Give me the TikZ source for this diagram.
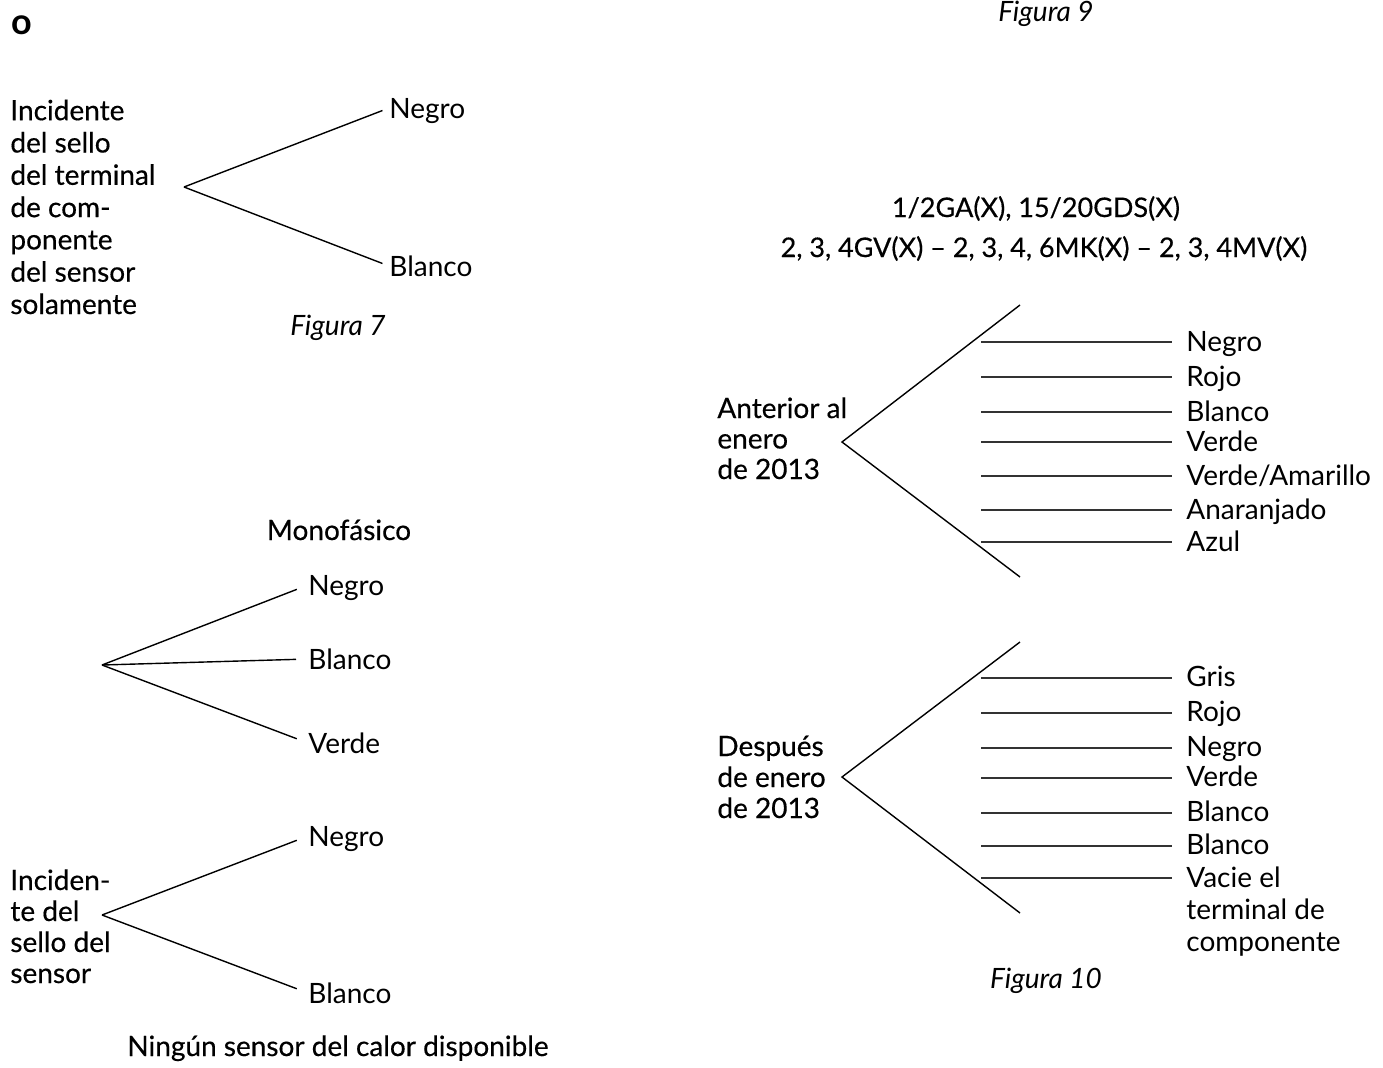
\documentclass[tikz,border=0pt]{standalone}
\usepackage{fontspec}
\setmainfont{Lato}
\newfontfamily\medio[FakeBold=0.4]{Lato}
\usetikzlibrary{positioning}

\tikzset{
  rama/.style={line width=0.7pt},
  raya/.style={line width=0.9pt, black!80},
  etiq/.style={font=\fontsize{14}{16}\selectfont, anchor=west, inner sep=0pt, text height=10pt, text depth=0pt},
  tit/.style={font=\medio\fontsize{#1}{16}\selectfont, inner sep=0pt, text height=10pt, text depth=0pt},
  tit/.default=14,
  pie/.style={font=\itshape\fontsize{14}{16}\selectfont, inner sep=0pt, text height=10pt, text depth=0pt},
  % base = linea de base de la ultima linea
  bloque/.style={font=\medio\fontsize{14}{#1}\selectfont, align=left, anchor=base west, inner sep=0pt},
  bloqueluz/.style={font=\fontsize{14}{#1}\selectfont, align=left, anchor=base west, inner sep=0pt}
}

\begin{document}
\begin{tikzpicture}[x=0.5pt, y=-0.5pt]
\useasboundingbox (0,0) rectangle (1383,1067);

% encabezado
\node[font=\bfseries\fontsize{18}{20}\selectfont, inner sep=0pt, text height=9pt, text depth=0pt] (letra) at (22,25) {o};
\node[pie] (fig9) at (1046,11) {Figura 9};

% Figura 7
\node[bloque=16.15pt] (sello7) at (10,314) {Incidente\\del sello\\del terminal\\de com-\\ponente\\del sensor\\solamente};
\coordinate (v7) at (184,187);
\node[etiq] (negro7) at (389,108) {Negro};
\node[etiq] (blanco7) at (389,266) {Blanco};
\draw[rama, shorten >=3.5pt] (v7) -- (negro7.west);
\draw[rama, shorten >=3.5pt] (v7) -- (blanco7.west);
\node[pie] (fig7) at (338,325) {Figura 7};

% Monofasico
\node[tit] (mono) at (339,530) {Monofásico};
\coordinate (v8) at (102,665);
\foreach \y/\t/\n in {585/Negro/negro8, 659/Blanco/blanco8, 743/Verde/verde8} {
  \node[etiq] (\n) at (308,\y) {\t};
  \draw[rama, shorten >=6pt] (v8) -- (\n.west);
}

% sello del sensor
\node[bloque=15.5pt] (sello) at (10,983) {Inciden-\\te del\\sello del\\sensor};
\coordinate (vs) at (102,915);
\node[etiq] (negros) at (308,836) {Negro};
\node[etiq] (blancos) at (308,993) {Blanco};
\draw[rama, shorten >=6pt] (vs) -- (negros.west);
\draw[rama, shorten >=6pt] (vs) -- (blancos.west);
\node[tit] (ningun) at (338,1046) {Ningún sensor del calor disponible};

% Figura 10
\node[tit=13.5] (mod1) at (1036,207) {1/2GA(X), 15/20GDS(X)};
\node[tit=13.5] (mod2) at (1044,247) {2, 3, 4GV(X) – 2, 3, 4, 6MK(X) – 2, 3, 4MV(X)};

\node[bloque=15.25pt] (ant) at (717,479) {Anterior al\\enero\\de 2013};
\coordinate (va) at (842,442);
\coordinate (va1) at (1020,305);
\coordinate (va2) at (1020,577);
\draw[rama] (va1) -- (va) -- (va2);
\foreach \y/\t [count=\i] in {342/Negro, 377/Rojo, 412/Blanco, 442/Verde, 476/{Verde/Amarillo}, 510/Anaranjado, 542/Azul} {
  \coordinate (ia\i) at (981,\y);
  \node[etiq] (ca\i) at (1186,\y-1) {\t};
  \draw[raya, shorten >=7pt] (ia\i) -- (ia\i -| ca\i.west);
}

\node[bloque=15.5pt] (des) at (717,818) {Después\\de enero\\de 2013};
\coordinate (vd) at (842,777);
\coordinate (vd1) at (1020,642);
\coordinate (vd2) at (1020,913);
\draw[rama] (vd1) -- (vd) -- (vd2);
\foreach \y/\t [count=\i] in {678/Gris, 713/Rojo, 748/Negro, 778/Verde, 813/Blanco, 846/Blanco} {
  \coordinate (ib\i) at (981,\y);
  \node[etiq] (cb\i) at (1186,\y-2) {\t};
  \draw[raya, shorten >=7pt] (ib\i) -- (ib\i -| cb\i.west);
}
\coordinate (ib7) at (981,878);
\node[bloqueluz=16pt] (vacie) at (1186,951) {Vacie el\\terminal de\\componente};
\draw[raya, shorten >=7pt] (ib7) -- (ib7 -| vacie.west);
\node[pie] (fig10) at (1046,978) {Figura 10};

\end{tikzpicture}
\end{document}
